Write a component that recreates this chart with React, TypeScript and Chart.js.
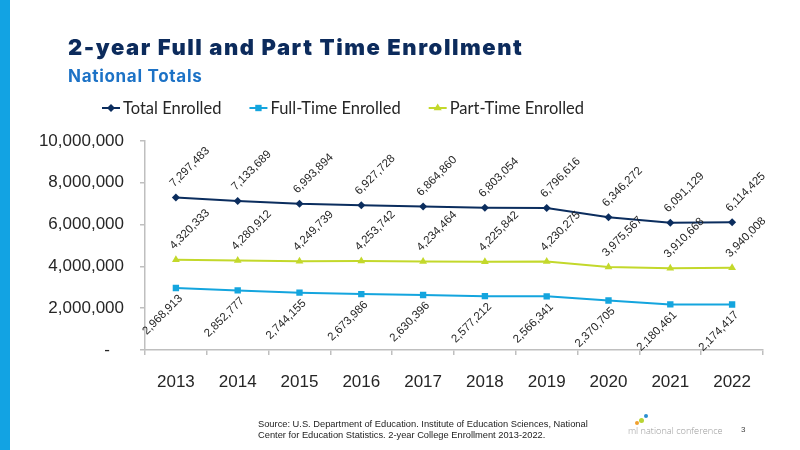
import React, { useEffect, useRef } from "react";
import { Chart, registerables } from "chart.js";

Chart.register(...registerables);

const years = ["2013", "2014", "2015", "2016", "2017", "2018", "2019", "2020", "2021", "2022"];
const totalEnrolled = [7297483, 7133689, 6993894, 6927728, 6864860, 6803054, 6796616, 6346272, 6091129, 6114425];
const fullTimeEnrolled = [2968913, 2852777, 2744155, 2673986, 2630396, 2577212, 2566341, 2370705, 2180461, 2174417];
const partTimeEnrolled = [4320333, 4280912, 4249739, 4253742, 4234464, 4225842, 4230275, 3975567, 3910668, 3940008];
const seriesNames = ["Total Enrolled", "Full-Time Enrolled", "Part-Time Enrolled"];
const yMin = 0;
const yMax = 10000000;
const yStep = 2000000;

const NAVY = "#0b2d5e";
const CYAN = "#14a5de";
const LIME = "#c3d82b";
const TEXT = "#262626";
const AXIS = "#bfbfbf";

function drawMarker(ctx: CanvasRenderingContext2D, style: string, x: number, y: number, r: number, color: string) {
  ctx.save();
  ctx.fillStyle = color;
  ctx.beginPath();
  if (style === "rectRot") {
    ctx.moveTo(x, y - r);
    ctx.lineTo(x + r, y);
    ctx.lineTo(x, y + r);
    ctx.lineTo(x - r, y);
    ctx.closePath();
  } else if (style === "rect") {
    const s = r * Math.SQRT1_2;
    ctx.rect(x - s, y - s, 2 * s, 2 * s);
  } else {
    const h = r * 1.5;
    ctx.moveTo(x, y - r);
    ctx.lineTo(x + r * 0.9, y + h / 3);
    ctx.lineTo(x - r * 0.9, y + h / 3);
    ctx.closePath();
  }
  ctx.fill();
  ctx.restore();
}

const legendPlugin = {
  id: "customLegend",
  afterDraw(chart: any) {
    const ctx: CanvasRenderingContext2D = chart.ctx;
    const y = 108;
    let x = 102;
    ctx.save();
    ctx.font = '16.5px Lato, "Liberation Sans", Arial, sans-serif';
    ctx.textBaseline = "middle";
    ctx.textAlign = "left";
    chart.data.datasets.forEach((ds: any) => {
      ctx.strokeStyle = ds.borderColor;
      ctx.lineWidth = 2;
      ctx.beginPath();
      ctx.moveTo(x, y);
      ctx.lineTo(x + 18, y);
      ctx.stroke();
      drawMarker(ctx, ds.pointStyle, x + 9, y, ds.pointRadius, ds.borderColor);
      ctx.fillStyle = TEXT;
      ctx.fillText(ds.label, x + 21, y + 1);
      x += 21 + ctx.measureText(ds.label).width + 28;
    });
    ctx.restore();
  },
};

const labelPlugin = {
  id: "rotLabels",
  afterDatasetsDraw(chart: any) {
    const ctx: CanvasRenderingContext2D = chart.ctx;
    chart.data.datasets.forEach((ds: any, i: number) => {
      const meta = chart.getDatasetMeta(i);
      const below = ds.labelBelow;
      meta.data.forEach((pt: any, j: number) => {
        const txt = Number(ds.data[j]).toLocaleString("en-US");
        ctx.save();
        ctx.font = '11.5px "Liberation Sans", Arial, sans-serif';
        ctx.fillStyle = TEXT;
        ctx.textBaseline = "alphabetic";
        if (below) {
          ctx.translate(pt.x + 7, pt.y + 11);
          ctx.rotate(-Math.PI / 4);
          ctx.textAlign = "right";
        } else {
          ctx.translate(pt.x - 2, pt.y - 10);
          ctx.rotate(-Math.PI / 4);
          ctx.textAlign = "left";
        }
        ctx.fillText(txt, 0, 0);
        ctx.restore();
      });
    });
  },
};

function EnrollmentChart() {
  const ref = useRef<HTMLCanvasElement | null>(null);
  useEffect(() => {
    if (!ref.current) return;
    const chart = new Chart(ref.current, {
      type: "line",
      data: {
        labels: years,
        datasets: [
          {
            label: seriesNames[0],
            data: totalEnrolled,
            borderColor: NAVY,
            backgroundColor: NAVY,
            borderWidth: 2,
            pointStyle: "rectRot",
            pointRadius: 4,
            pointBorderWidth: 0,
            tension: 0,
            labelBelow: false,
          } as any,
          {
            label: seriesNames[1],
            data: fullTimeEnrolled,
            borderColor: CYAN,
            backgroundColor: CYAN,
            borderWidth: 2,
            pointStyle: "rect",
            pointRadius: 4.5,
            pointBorderWidth: 0,
            tension: 0,
            labelBelow: true,
          } as any,
          {
            label: seriesNames[2],
            data: partTimeEnrolled,
            borderColor: LIME,
            backgroundColor: LIME,
            borderWidth: 2,
            pointStyle: "triangle",
            pointRadius: 4.5,
            pointBorderWidth: 0,
            tension: 0,
            labelBelow: false,
          } as any,
        ],
      },
      options: {
        animation: false,
        responsive: false,
        maintainAspectRatio: false,
        layout: { padding: { left: 0, right: 37, top: 141, bottom: 50 } },
        plugins: {
          legend: { display: false },
          tooltip: { enabled: false },
          title: { display: false },
        },
        scales: {
          x: {
            type: "category",
            offset: true,
            grid: {
              display: true,
              offset: true,
              drawOnChartArea: false,
              drawTicks: true,
              tickLength: 5,
              color: AXIS,
              lineWidth: 1.5,
            },
            border: { display: true, color: AXIS, width: 1.5 },
            ticks: {
              color: TEXT,
              font: { family: '"Liberation Sans", Arial, sans-serif', size: 17 },
              padding: 17,
              maxRotation: 0,
            },
            afterFit(scale: any) {
              scale.height = 50;
            },
          },
          y: {
            min: yMin,
            max: yMax,
            grid: {
              display: true,
              drawOnChartArea: false,
              drawTicks: true,
              tickLength: 5,
              color: AXIS,
              lineWidth: 1.5,
            },
            border: { display: true, color: AXIS, width: 1.5 },
            ticks: {
              stepSize: yStep,
              color: TEXT,
              font: { family: '"Liberation Sans", Arial, sans-serif', size: 17 },
              padding: 16,
              callback: (v: any) => (Number(v) === 0 ? "-   " : Number(v).toLocaleString("en-US")),
            },
            afterFit(scale: any) {
              scale.width = 145;
            },
          },
        },
      },
      plugins: [labelPlugin, legendPlugin],
    });
    return () => chart.destroy();
  }, []);
  return <canvas ref={ref} width={800} height={450} style={{ position: "absolute", left: 0, top: 0, width: 800, height: 450 }} />;
}

export default function App() {
  return (
    <div
      style={{
        position: "fixed",
        left: 0,
        top: 0,
        width: 800,
        height: 450,
        background: "#ffffff",
        overflow: "hidden",
        fontFamily: '"Liberation Sans", Arial, sans-serif',
      }}
    >
      <div style={{ position: "absolute", left: 0, top: 0, width: 10, height: 450, background: "#12a3e3" }} />
      <EnrollmentChart />
      <div
        style={{
          position: "absolute",
          left: 68,
          top: 33,
          fontFamily: "Inter, sans-serif",
          fontWeight: 900,
          fontSize: 22,
          letterSpacing: "1.55px",
          color: "#0c2b5c",
          whiteSpace: "nowrap",
          lineHeight: "28px",
        }}
      >
        2-year Full and Part Time Enrollment
      </div>
      <div
        style={{
          position: "absolute",
          left: 68,
          top: 65,
          fontFamily: "Inter, sans-serif",
          fontWeight: 700,
          fontSize: 17,
          letterSpacing: "0.7px",
          color: "#1c72c6",
          whiteSpace: "nowrap",
          lineHeight: "22px",
        }}
      >
        National Totals
      </div>
      <div
        style={{
          position: "absolute",
          left: 258,
          top: 419,
          fontSize: 9.3,
          lineHeight: "11px",
          color: "#222222",
          whiteSpace: "nowrap",
        }}
      >
        Source: U.S. Department of Education. Institute of Education Sciences, National
        <br />
        Center for Education Statistics. 2-year College Enrollment 2013-2022.
      </div>
      <div style={{ position: "absolute", left: 644, top: 414, width: 4, height: 4, borderRadius: 2, background: "#2a8fd0" }} />
      <div style={{ position: "absolute", left: 639, top: 418, width: 5, height: 5, borderRadius: 3, background: "#b8d433" }} />
      <div style={{ position: "absolute", left: 635, top: 421, width: 4, height: 4, borderRadius: 2, background: "#f0a030" }} />
      <div
        style={{
          position: "absolute",
          left: 628,
          top: 425,
          fontSize: 9.2,
          lineHeight: "12px",
          color: "#9a9a9a",
          whiteSpace: "nowrap",
          fontFamily: '"Open Sans", sans-serif',
          fontWeight: 300,
        }}
      >
        ml national conference
      </div>
      <div style={{ position: "absolute", left: 741, top: 425, fontSize: 8, lineHeight: "10px", color: "#444444" }}>3</div>
    </div>
  );
}
